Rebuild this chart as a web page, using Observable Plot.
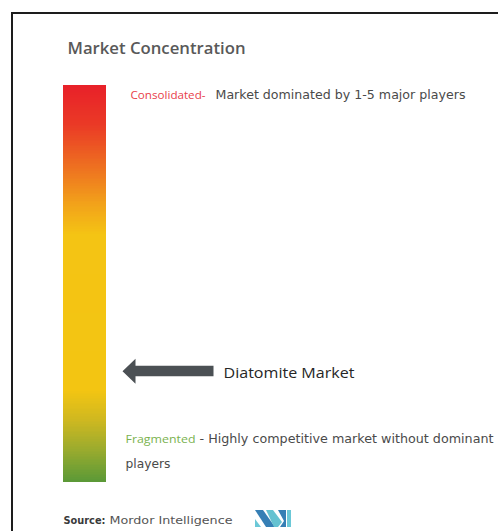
<!DOCTYPE html>
<html><head><meta charset="utf-8">
<script src="https://cdn.jsdelivr.net/npm/d3@7"></script>
<script src="https://cdn.jsdelivr.net/npm/@observablehq/plot@0.6"></script>
<style>
html,body{margin:0;padding:0;background:#fff;overflow:hidden;width:498px;height:531px}
#frame{position:absolute;left:11px;top:12px;width:600px;height:600px;border:2.6px solid #1d1d1d;box-sizing:border-box}
#chart{position:absolute;left:0;top:0}
#chart svg{overflow:visible;background:transparent}
</style></head><body>
<div id="frame"></div>
<div id="chart"></div>
<script>
// ---- data ----
const chartTitle = "Market Concentration";
const marketName = "Diatomite Market";
const marketLevel = 0.28; // position of the market on the concentration scale (0 = fragmented, 1 = consolidated)
const gradientStops = [0, 0.081, 0.156, 0.232, 0.622, 0.698, 0.786, 0.9, 1];
const gradientColors = ["#5a9937", "#9aab2e", "#cfb820", "#f3c512", "#f4c414", "#f2a31a", "#ee7420", "#ea3a26", "#e82029"];
const topLabel = ["Consolidated-", "Market dominated by 1-5 major players"];
const bottomLabel = ["Fragmented", "- Highly competitive market without dominant", "players"];
const sourceLabel = ["Source:", "Mordor Intelligence"];

// ---- layout ----
const W = 498, H = 531;
const bar = {x1: 63, x2: 106, top: 85, bottom: 482};
const font = "'Open Sans', 'Noto Sans', sans-serif";
const bodyFont = "'DejaVu Sans', 'Open Sans', sans-serif";
const fitWidths = new Map([
  [chartTitle, 178], [marketName, 131],
  [topLabel[0], 75], [topLabel[1], 250],
  [bottomLabel[0], 70], [bottomLabel[1], 294], [bottomLabel[2], 45],
  [sourceLabel[0], 42], [sourceLabel[1], 123]
]);
const colorAt = d3.scaleLinear().domain(gradientStops).range(gradientColors).interpolate(d3.interpolateRgb);
const N = 240;
const slices = d3.range(N).map(i => ({y1: i / N, y2: (i + 1) / N, c: colorAt((i + 0.5) / N)}));

const arrowSymbol = {
  draw(ctx) {
    ctx.moveTo(0, 0);
    ctx.lineTo(13, -12.5);
    ctx.lineTo(13, -5.5);
    ctx.lineTo(91, -5.5);
    ctx.lineTo(91, 5);
    ctx.lineTo(13, 5);
    ctx.lineTo(13, 12.5);
    ctx.closePath();
  }
};

function logo() {
  const g = d3.create("svg:g").attr("opacity", 0.9);
  const polys = [
    {fill: "#5cc3d3", p: [[255,519],[255,527],[261,527]]},
    {fill: "#2172ad", p: [[255,510],[263,510],[275,527],[266,527]]},
    {fill: "#55bccd", p: [[266,510],[273,510],[282,522],[278,527],[274,527]]},
    {fill: "#2172ad", p: [[278,510],[286,510],[286,527],[280,527],[284,521]]},
    {fill: "#5cc3d3", p: [[287,510],[291,510],[291,527],[287,527]]}
  ];
  for (const s of polys) g.append("path").attr("d", "M" + s.p.join("L") + "Z").attr("fill", s.fill);
  return g.node();
}

const txt = (label, opts) => Plot.text([label], {text: d => d, textAnchor: "start", lineAnchor: "middle", ...opts});

const plot = Plot.plot({
  width: W, height: H, margin: 0,
  x: {domain: [0, W], range: [0, W], axis: null},
  y: {domain: [0, 1], range: [bar.bottom, bar.top], axis: null},
  color: {type: "identity"},
  style: {background: "transparent", overflow: "visible"},
  marks: [
    Plot.rect(slices, {x1: bar.x1, x2: bar.x2, y1: "y1", y2: "y2", fill: "c", shapeRendering: "crispEdges"}),
    Plot.dot([marketLevel], {x: 122, y: d => d, symbol: arrowSymbol, r: 10, fill: "#4b5054", stroke: "none"}),
    txt(marketName, {x: 223, y: marketLevel, dy: 2, fontSize: 15, fontFamily: font, fill: "#262626"}),
    txt(chartTitle, {frameAnchor: "top-left", dx: 67, dy: 49, fontSize: 15.5, fontWeight: 600, fontFamily: font, fill: "#595959"}),
    txt(topLabel[0], {x: 130, y: 1, dy: 10, fontSize: 11.5, fontFamily: font, fill: "#e8404a"}),
    txt(topLabel[1], {x: 215, y: 1, dy: 10, fontSize: 11.5, fontFamily: bodyFont, fill: "#4a4a4a"}),
    txt(bottomLabel[0], {x: 125, y: 0, dy: -43, fontSize: 11.5, fontFamily: font, fill: "#7ab24e"}),
    txt(bottomLabel[1], {x: 199, y: 0, dy: -43, fontSize: 11.5, fontFamily: bodyFont, fill: "#4a4a4a"}),
    txt(bottomLabel[2], {x: 125, y: 0, dy: -18, fontSize: 11.5, fontFamily: bodyFont, fill: "#4a4a4a"}),
    txt(sourceLabel[0], {frameAnchor: "top-left", dx: 63, dy: 520, fontSize: 10, fontWeight: "bold", fontFamily: "'DejaVu Sans', sans-serif", fill: "#3a3a3a"}),
    txt(sourceLabel[1], {frameAnchor: "top-left", dx: 109, dy: 520, fontSize: 10.5, fontFamily: "'DejaVu Sans', sans-serif", fill: "#555"}),
    logo
  ]
});
// fit each label to the width it has in the reference
for (const t of plot.querySelectorAll("text")) {
  const w = fitWidths.get(t.textContent);
  if (w) { t.setAttribute("textLength", w); t.setAttribute("lengthAdjust", "spacingAndGlyphs"); }
}
document.getElementById("chart").appendChild(plot);
</script>
</body></html>
